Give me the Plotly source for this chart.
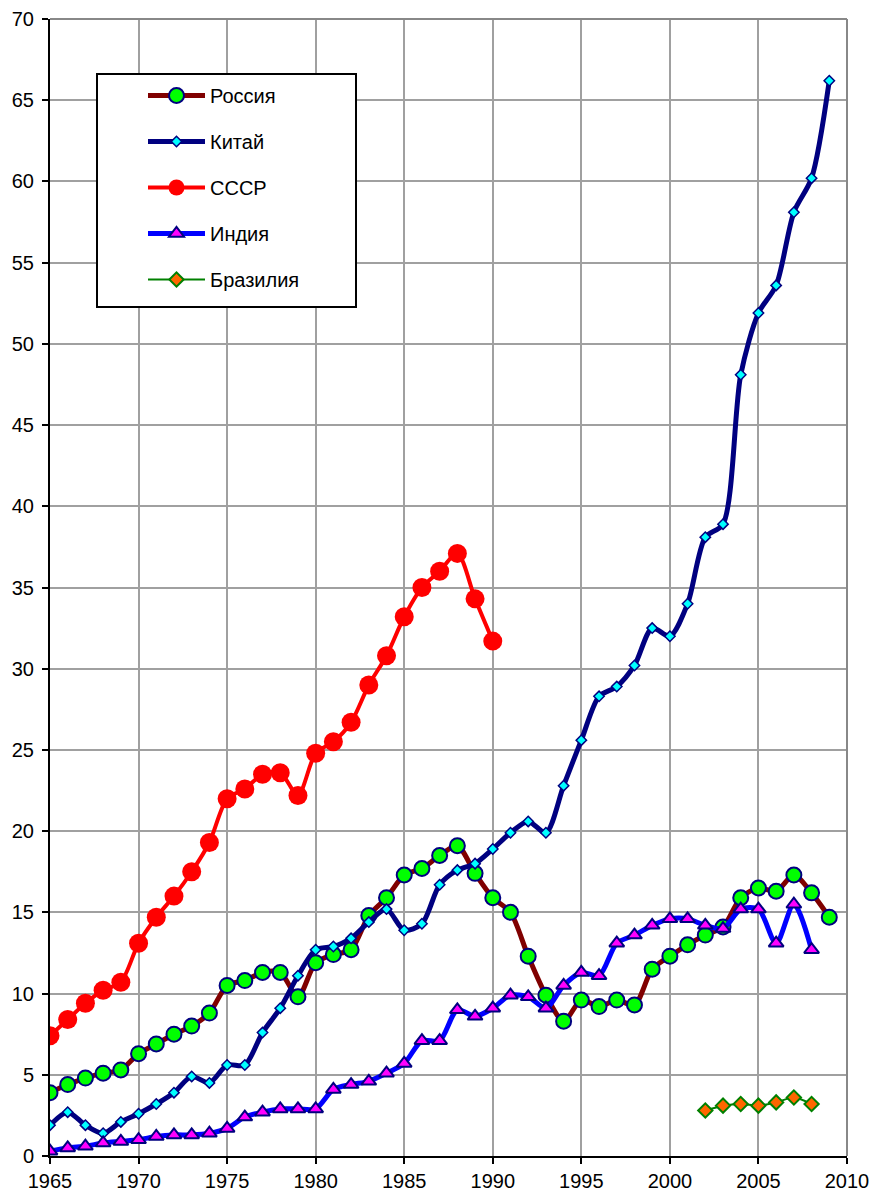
import plotly.graph_objects as go

years_russia = list(range(1965, 2010))
russia = [3.9, 4.4, 4.8, 5.1, 5.3, 6.3, 6.9, 7.5, 8.0, 8.8,
          10.5, 10.8, 11.3, 11.3, 9.8, 11.9, 12.4, 12.7, 14.8, 15.9,
          17.3, 17.7, 18.5, 19.1, 17.4, 15.9, 15.0, 12.3, 9.9, 8.3,
          9.6, 9.2, 9.6, 9.3, 11.5, 12.3, 13.0, 13.6, 14.1, 15.9,
          16.5, 16.3, 17.3, 16.2, 14.7]

years_china = list(range(1965, 2010))
china = [1.9, 2.7, 1.9, 1.4, 2.1, 2.6, 3.2, 3.9, 4.9, 4.5,
         5.6, 5.6, 7.6, 9.1, 11.1, 12.7, 12.9, 13.4, 14.4, 15.2,
         13.9, 14.3, 16.7, 17.6, 18.0, 18.9, 19.9, 20.6, 19.9, 22.8,
         25.6, 28.3, 28.9, 30.2, 32.5, 32.0, 34.0, 38.1, 38.9, 48.1,
         51.9, 53.6, 58.1, 60.2, 66.2]

years_ussr = list(range(1965, 1991))
ussr = [7.4, 8.4, 9.4, 10.2, 10.7, 13.1, 14.7, 16.0, 17.5, 19.3,
        22.0, 22.6, 23.5, 23.6, 22.2, 24.8, 25.5, 26.7, 29.0, 30.8,
        33.2, 35.0, 36.0, 37.1, 34.3, 31.7]

years_india = list(range(1965, 2009))
india = [0.3, 0.5, 0.6, 0.8, 0.9, 1.0, 1.2, 1.3, 1.3, 1.4,
         1.7, 2.4, 2.7, 2.9, 2.9, 2.9, 4.1, 4.4, 4.6, 5.1,
         5.7, 7.1, 7.1, 9.0, 8.6, 9.1, 9.9, 9.8, 9.1, 10.5,
         11.3, 11.1, 13.1, 13.6, 14.2, 14.6, 14.6, 14.2, 14.0, 15.2,
         15.2, 13.1, 15.5, 12.7]

years_brazil = list(range(2002, 2009))
brazil = [2.8, 3.1, 3.2, 3.1, 3.3, 3.6, 3.2]

x_ticks = list(range(1965, 2011, 5))
y_ticks = list(range(0, 71, 5))

FONT = "Liberation Sans, Arial, sans-serif"
SM = 0.8

fig = go.Figure()
fig.add_trace(go.Scatter(
    x=years_russia, y=russia, name="Россия", mode="lines+markers",
    legendgroup="a",
    line=dict(color="#800000", width=5, shape="spline", smoothing=SM),
    marker=dict(symbol="circle", size=15, color="#00FF00",
                line=dict(color="#000080", width=2))))
fig.add_trace(go.Scatter(
    x=years_china, y=china, name="Китай", mode="lines+markers",
    legendgroup="b",
    line=dict(color="#000080", width=5, shape="spline", smoothing=SM),
    marker=dict(symbol="diamond", size=8, color="#00FFFF",
                line=dict(color="#000080", width=1.5))))
fig.add_trace(go.Scatter(
    x=years_ussr, y=ussr, name="СССР", mode="lines+markers",
    legendgroup="c",
    line=dict(color="#FF0000", width=4, shape="spline", smoothing=SM),
    marker=dict(symbol="circle", size=19, color="#FF0000",
                line=dict(color="#FF0000", width=0))))
fig.add_trace(go.Scatter(
    x=years_india, y=india, name="Индия", mode="lines+markers",
    legendgroup="d",
    line=dict(color="#0000FF", width=5, shape="spline", smoothing=SM),
    marker=dict(symbol="triangle-up", size=13, color="#FF00FF",
                line=dict(color="#000080", width=2))))
fig.add_trace(go.Scatter(
    x=years_brazil, y=brazil, name="Бразилия", mode="lines+markers",
    legendgroup="e",
    line=dict(color="#008000", width=2, shape="spline", smoothing=SM),
    marker=dict(symbol="diamond", size=11, color="#FF6600",
                line=dict(color="#008000", width=2))))

L, R, T, B = 50, 27, 19, 35
W, H = 874, 1191
pw, ph = W - L - R, H - T - B

def px_x(p):
    return (p - L) / pw

def px_y(p):
    return (H - B - p) / ph

fig.update_layout(
    width=W, height=H,
    margin=dict(l=L, r=R, t=T, b=B, pad=0, autoexpand=False),
    paper_bgcolor="white", plot_bgcolor="white",
    font=dict(family=FONT, size=20, color="black"),
    showlegend=True,
    legend=dict(
        x=px_x(143), y=px_y(76), xanchor="left", yanchor="top",
        bgcolor="rgba(0,0,0,0)", borderwidth=0,
        font=dict(family=FONT, size=20, color="black"),
        itemwidth=57, traceorder="grouped", tracegroupgap=17,
        itemsizing="trace",
    ),
    xaxis=dict(
        range=[1965, 2010], tickvals=x_ticks, ticktext=[str(v) for v in x_ticks],
        showgrid=True, gridcolor="#A0A0A0", gridwidth=2,
        showline=True, linecolor="black", linewidth=2,
        ticks="outside", ticklen=6, tickwidth=2, tickcolor="black",
        zeroline=False, tickfont=dict(size=20), automargin=False,
    ),
    yaxis=dict(
        range=[0, 70], tickvals=y_ticks, ticktext=[str(v) for v in y_ticks],
        showgrid=True, gridcolor="#A0A0A0", gridwidth=2,
        showline=True, linecolor="black", linewidth=2,
        ticks="outside", ticklen=6, tickwidth=2, tickcolor="black",
        zeroline=False, tickfont=dict(size=20), automargin=False,
        ticklabelstandoff=4,
    ),
    shapes=[
        dict(type="line", xref="paper", yref="paper", x0=0, x1=1, y0=1, y1=1,
             line=dict(color="#888888", width=2), layer="above"),
        dict(type="line", xref="paper", yref="paper", x0=1, x1=1, y0=0, y1=1,
             line=dict(color="#888888", width=2), layer="above"),
        dict(type="rect", xref="paper", yref="paper",
             x0=px_x(97), x1=px_x(356), y0=px_y(307), y1=px_y(74),
             fillcolor="white", line=dict(color="black", width=2), layer="above"),
    ],
)

fig.write_html(
    "out.html",
    config={"displayModeBar": False},
    post_script="document.body.style.margin='0';document.body.style.overflow='hidden';",
)
